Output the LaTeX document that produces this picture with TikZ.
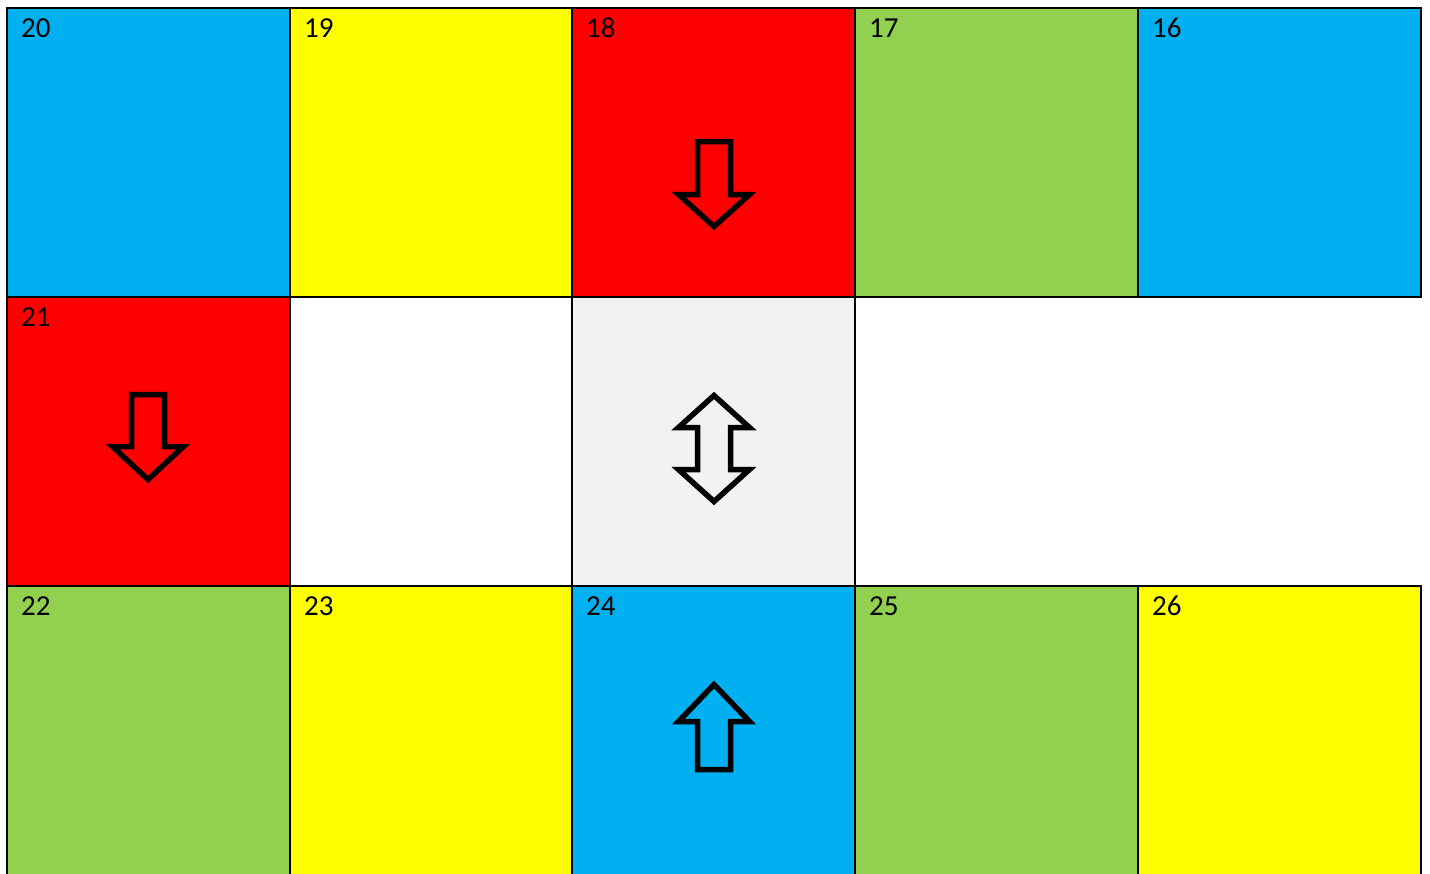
\documentclass[tikz,border=0pt]{standalone}
\usepackage{fontspec}
\setmainfont{Carlito}
\definecolor{cblue}{HTML}{00B0F0}
\definecolor{cyellow}{HTML}{FFFF00}
\definecolor{cred}{HTML}{FF0000}
\definecolor{cgreen}{HTML}{92D050}
\definecolor{cgray}{HTML}{F2F2F2}
\newcommand{\dnarrow}[5]{% name, cx, top, base, tip
  \draw[arrowline] ({#2-16.5},#3) -- ({#2+16.5},#3) -- ({#2+16.5},#4) -- ({#2+35.5},#4) -- (#2,#5) -- ({#2-35.5},#4) -- ({#2-16.5},#4) -- cycle;}
\newcommand{\uparrowshape}[4]{% cx, tip, base, bottom
  \draw[arrowline] (#1,#2) -- ({#1+35.5},#3) -- ({#1+16.5},#3) -- ({#1+16.5},#4) -- ({#1-16.5},#4) -- ({#1-16.5},#3) -- ({#1-35.5},#3) -- cycle;}
\begin{document}
\begin{tikzpicture}[x=1pt,y=-1pt,
  cell/.style={draw=black,line width=2pt},
  arrowline/.style={draw=black,line width=5.5pt,line join=miter,miter limit=10},
  num/.style={anchor=base west,inner sep=0pt,font=\fontsize{29}{35}\selectfont}]
\useasboundingbox (0,0) rectangle (1430,873);
\clip (0,0) rectangle (1430,873);
% row 1
\draw[cell,fill=cblue]   (7,8) rectangle (290,297);
\draw[cell,fill=cyellow] (290,8) rectangle (572,297);
\draw[cell,fill=cred]    (572,8) rectangle (855,297);
\draw[cell,fill=cgreen]  (855,8) rectangle (1138,297);
\draw[cell,fill=cblue]   (1138,8) rectangle (1421,297);
% row 2
\draw[cell,fill=cred]    (7,297) rectangle (290,586);
\draw[cell,fill=white]   (290,297) rectangle (572,586);
\draw[cell,fill=cgray]   (572,297) rectangle (855,586);
% row 3
\draw[cell,fill=cgreen]  (7,586) rectangle (290,900);
\draw[cell,fill=cyellow] (290,586) rectangle (572,900);
\draw[cell,fill=cblue]   (572,586) rectangle (855,900);
\draw[cell,fill=cgreen]  (855,586) rectangle (1138,900);
\draw[cell,fill=cyellow] (1138,586) rectangle (1421,900);
% labels
\node[num] (n20) at (21,37.5) {20};
\node[num] (n19) at (304,37.5) {19};
\node[num] (n18) at (586,37.5) {18};
\node[num] (n17) at (869,37.5) {17};
\node[num] (n16) at (1152,37.5) {16};
\node[num] (n21) at (21,326.5) {21};
\node[num] (n22) at (21,615.5) {22};
\node[num] (n23) at (304,615.5) {23};
\node[num] (n24) at (586,615.5) {24};
\node[num] (n25) at (869,615.5) {25};
\node[num] (n26) at (1152,615.5) {26};
% arrows
\dnarrow{a18}{714}{141.5}{194.5}{226.5}
\dnarrow{a21}{148}{394.5}{446.5}{479.5}
\uparrowshape{714}{684.5}{721.5}{769.5}
\draw[arrowline] (714,395.5) -- (749.5,427.5) -- (730.5,427.5) -- (730.5,469.5) -- (749.5,469.5) -- (714,501.5) -- (678.5,469.5) -- (697.5,469.5) -- (697.5,427.5) -- (678.5,427.5) -- cycle;
\end{tikzpicture}
\end{document}
